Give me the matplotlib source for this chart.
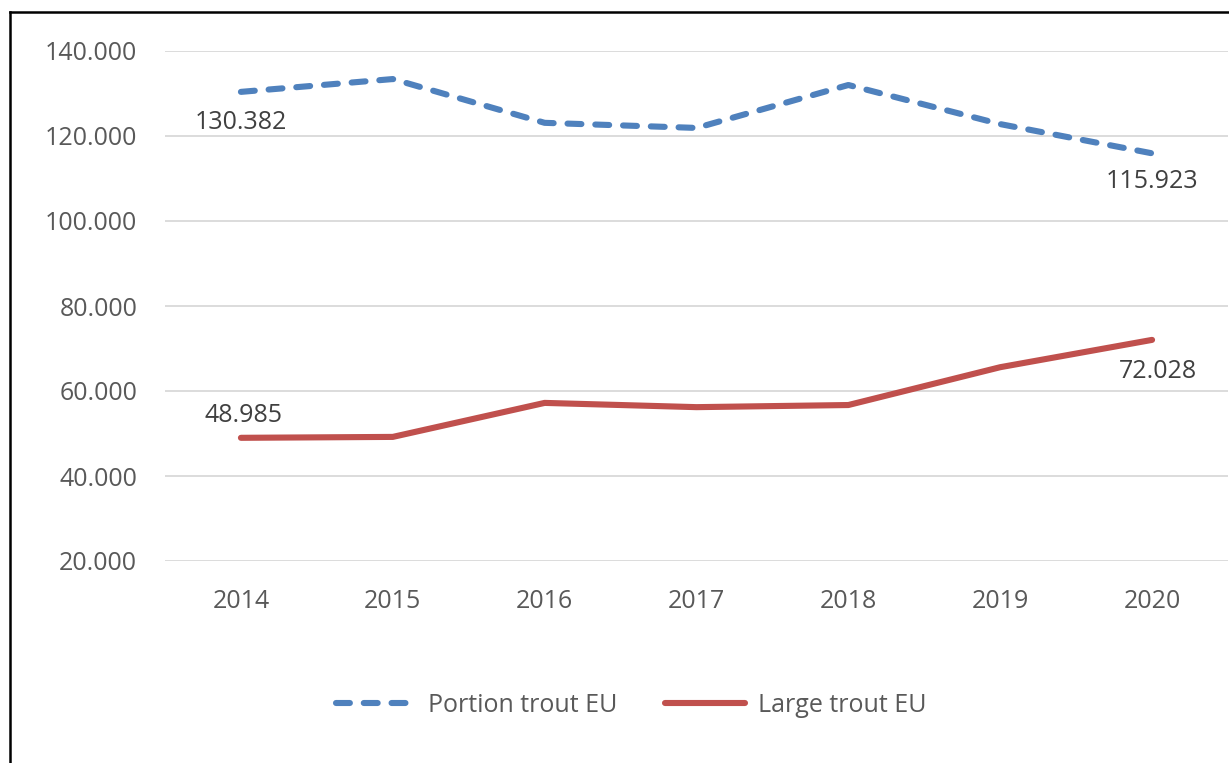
import matplotlib.pyplot as plt
import matplotlib.lines as mlines
import matplotlib.ticker as mticker

years   = ["2014", "2015", "2016", "2017", "2018", "2019", "2020"]
portion = [130382, 133400, 123100, 121900, 132000, 122800, 115923]
large   = [48985, 49200, 57200, 56200, 56700, 65600, 72028]

blue = "#4F81BD"
red  = "#C0504D"
grey = "#595959"

plt.rcParams["font.family"] = ["Open Sans", "DejaVu Sans"]
plt.rcParams["lines.scale_dashes"] = False

fig = plt.figure(figsize=(12.29, 7.63), dpi=100)
ax = fig.add_axes([165/1229, 1-561/763, (1228-165)/1229, (561-51)/763])

x = range(len(years))
lp, = ax.plot(x, portion, color=blue, linewidth=4.4, dashes=(10, 10),
              dash_capstyle="round", solid_capstyle="round", label="Portion trout EU")
ll, = ax.plot(x, large, color=red, linewidth=4.4, solid_capstyle="round",
              label="Large trout EU")

ax.set_xlim(-0.5, len(years)-0.5)
ax.set_ylim(20000, 140000)
ax.set_yticks(range(20000, 140001, 20000))
ax.yaxis.set_major_formatter(mticker.FuncFormatter(lambda v, p: f"{int(v):,}".replace(",", ".")))
ax.set_xticks(list(x))
ax.set_xticklabels(years)
ax.grid(axis="y", color="#D9D9D9", linewidth=1.3)
ax.set_axisbelow(True)
for s in ax.spines.values():
    s.set_visible(False)
ax.tick_params(axis="both", length=0, labelsize=18, colors=grey)
ax.tick_params(axis="y", pad=20)
ax.tick_params(axis="x", pad=20)

def fmt(v):
    return f"{v:,}".replace(",", ".")

lab_kw = dict(textcoords="offset points", ha="center", va="center", fontsize=18, color="#404040")
ax.annotate(fmt(portion[0]), (0, portion[0]), xytext=(0, -22), **lab_kw)
ax.annotate(fmt(portion[-1]), (6, portion[-1]), xytext=(0, -20), **lab_kw)
ax.annotate(fmt(large[0]), (0, large[0]), xytext=(2, 16), **lab_kw)
ax.annotate(fmt(large[-1]), (6, large[-1]), xytext=(4, -23), **lab_kw)

fig.legend(handles=[lp, ll], loc="center", bbox_to_anchor=(631/1229, 1-705/763),
           ncol=2, frameon=False, fontsize=18, handlelength=3.2, columnspacing=1.9,
           labelcolor=grey, handletextpad=0.5)

# chart border (top and left visible)
fig.add_artist(mlines.Line2D([10/1229, 1], [1-12/763, 1-12/763], color="black", linewidth=1.8))
fig.add_artist(mlines.Line2D([10/1229, 10/1229], [0, 1-12/763], color="black", linewidth=1.8))

plt.savefig("out.png", dpi=100)
